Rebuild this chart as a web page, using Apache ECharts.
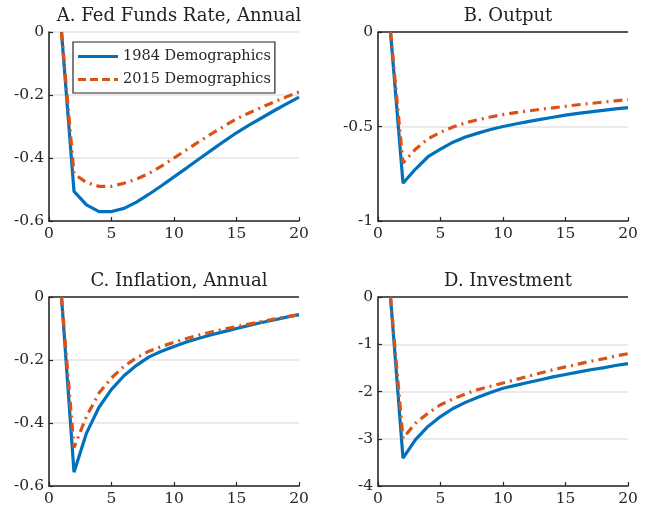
<!DOCTYPE html>
<html>
<head>
<meta charset="utf-8">
<script src="https://cdn.jsdelivr.net/npm/echarts@6/dist/echarts.min.js"></script>
<style>html,body{margin:0;padding:0;background:#fff}#c{width:654px;height:514px}</style>
</head>
<body>
<div id="c"></div>
<script>
var quarters = [1,2,3,4,5,6,7,8,9,10,11,12,13,14,15,16,17,18,19,20];
var seriesNames = ['1984 Demographics', '2015 Demographics'];
var panelTitles = ['A. Fed Funds Rate, Annual', 'B. Output', 'C. Inflation, Annual', 'D. Investment'];

var ffr1984 = [0,-0.506,-0.549,-0.570,-0.570,-0.560,-0.540,-0.515,-0.488,-0.460,-0.432,-0.403,-0.375,-0.347,-0.320,-0.296,-0.273,-0.250,-0.228,-0.207];
var ffr2015 = [0,-0.450,-0.478,-0.490,-0.490,-0.480,-0.467,-0.449,-0.426,-0.400,-0.374,-0.348,-0.323,-0.299,-0.276,-0.257,-0.239,-0.222,-0.206,-0.190];
var out1984 = [0,-0.800,-0.725,-0.660,-0.620,-0.583,-0.556,-0.535,-0.516,-0.500,-0.487,-0.474,-0.462,-0.451,-0.440,-0.431,-0.423,-0.415,-0.407,-0.400];
var out2015 = [0,-0.693,-0.620,-0.565,-0.530,-0.503,-0.480,-0.464,-0.450,-0.437,-0.427,-0.418,-0.409,-0.401,-0.393,-0.385,-0.378,-0.371,-0.364,-0.357];
var inf1984 = [0,-0.556,-0.432,-0.350,-0.293,-0.250,-0.217,-0.190,-0.172,-0.157,-0.143,-0.131,-0.120,-0.110,-0.100,-0.090,-0.081,-0.073,-0.064,-0.056];
var inf2015 = [0,-0.478,-0.379,-0.305,-0.257,-0.220,-0.193,-0.172,-0.157,-0.144,-0.132,-0.121,-0.111,-0.102,-0.094,-0.086,-0.078,-0.070,-0.063,-0.056];
var inv1984 = [0,-3.41,-3.02,-2.74,-2.53,-2.36,-2.23,-2.12,-2.02,-1.93,-1.87,-1.81,-1.75,-1.69,-1.64,-1.59,-1.54,-1.50,-1.45,-1.41];
var inv2015 = [0,-2.99,-2.67,-2.46,-2.28,-2.16,-2.05,-1.96,-1.89,-1.82,-1.75,-1.68,-1.61,-1.54,-1.48,-1.42,-1.36,-1.31,-1.25,-1.20];

var xTicks = {min: 0, max: 20, interval: 5};
var yRanges = [
  {min: -0.6, max: 0, interval: 0.2},
  {min: -1, max: 0, interval: 0.5},
  {min: -0.6, max: 0, interval: 0.2},
  {min: -4, max: 0, interval: 1}
];
var panelData = [[ffr1984, ffr2015],[out1984, out2015],[inf1984, inf2015],[inv1984, inv2015]];
var zeroLine = [false, true, true, true];

var FONT = 'DejaVu Serif';
var TICKFONT = 'DejaVu Serif';
var BLUE = '#0072BD', ORANGE = '#D95319';
var gridPos = [
  {left: 49, top: 32, width: 250, height: 189},
  {left: 378, top: 32, width: 250, height: 189},
  {left: 49, top: 297, width: 250, height: 189},
  {left: 378, top: 297, width: 250, height: 189}
];

function pairs(ys){ return quarters.map(function(q,i){ return [q, ys[i]]; }); }
function fmt(v){ var r = Math.round(v*10)/10; return r === 0 ? '0' : String(r); }

var grids = [], xAxes = [], yAxes = [], series = [], titles = [];
for (var p = 0; p < 4; p++) {
  grids.push(gridPos[p]);
  titles.push({
    text: panelTitles[p],
    left: gridPos[p].left + gridPos[p].width/2,
    textAlign: 'center',
    top: gridPos[p].top - 30,
    textStyle: {fontFamily: FONT, fontSize: 18, fontWeight: 'normal', color: '#222'}
  });
  xAxes.push({
    type: 'value', gridIndex: p, min: xTicks.min, max: xTicks.max, interval: xTicks.interval,
    axisLine: {show: true, onZero: false, lineStyle: {color: '#262626', width: 1.6}},
    axisTick: {show: true, inside: true, length: 4, lineStyle: {color: '#262626', width: 1.2}},
    axisLabel: {fontFamily: TICKFONT, fontSize: 15.5, color: '#262626', margin: 5},
    splitLine: {show: false}
  });
  yAxes.push({
    type: 'value', gridIndex: p, min: yRanges[p].min, max: yRanges[p].max, interval: yRanges[p].interval,
    axisLine: {show: true, onZero: false, lineStyle: {color: '#262626', width: 1.6}},
    axisTick: {show: true, inside: true, length: 4, lineStyle: {color: '#262626', width: 1.2}},
    axisLabel: {fontFamily: TICKFONT, fontSize: 15.5, color: '#262626', margin: 5, formatter: fmt},
    splitLine: {show: true, lineStyle: {color: '#e3e3e3', width: 1.6}}
  });
  var s1 = {
    name: seriesNames[0], type: 'line', xAxisIndex: p, yAxisIndex: p,
    data: pairs(panelData[p][0]), symbol: 'none', silent: true,
    lineStyle: {color: BLUE, width: 3.2}, itemStyle: {color: BLUE}, z: 3
  };
  if (zeroLine[p]) {
    s1.markLine = {
      silent: true, symbol: 'none', label: {show: false},
      lineStyle: {color: '#262626', width: 1.6, type: 'solid'},
      data: [{yAxis: 0}], z: 1
    };
  }
  series.push(s1);
  series.push({
    name: seriesNames[1], type: 'line', xAxisIndex: p, yAxisIndex: p,
    data: pairs(panelData[p][1]), symbol: 'none', silent: true,
    lineStyle: {color: ORANGE, width: 3.2, type: [9, 5, 2, 5]}, itemStyle: {color: ORANGE}, z: 4
  });
}

var solidIcon = 'path://M0,0H40V3H0Z';
var dashIcon = 'path://M0,0H8V3H0Z M12,0H20V3H12Z M24,0H32V3H24Z M36,0H40V3H36Z';

var chart = echarts.init(document.getElementById('c'), null, {renderer: 'canvas'});
chart.setOption({
  animation: false,
  backgroundColor: '#fff',
  title: titles,
  grid: grids,
  xAxis: xAxes,
  yAxis: yAxes,
  legend: {
    data: [
      {name: seriesNames[0], icon: solidIcon},
      {name: seriesNames[1], icon: dashIcon}
    ],
    left: 73, top: 42, orient: 'vertical',
    itemWidth: 40, itemHeight: 3.2, itemGap: 8,
    padding: [7, 4, 6, 5],
    borderColor: '#262626', borderWidth: 1.2, backgroundColor: '#fff',
    textStyle: {fontFamily: FONT, fontSize: 14.5, color: '#262626'},
    selectedMode: false
  },
  series: series
});
</script>
</body>
</html>
